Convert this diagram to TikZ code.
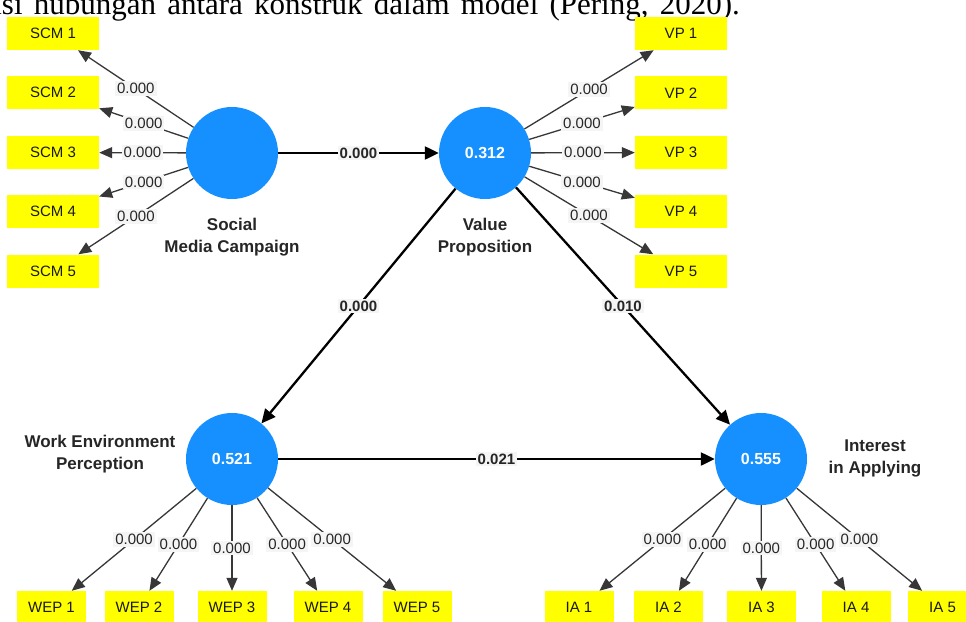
\documentclass[tikz,border=0pt]{standalone}
\usepackage{fontspec}
\setmainfont{Liberation Sans}
\newfontfamily\capfont{Liberation Serif}
\usetikzlibrary{arrows.meta}
\definecolor{lvblue}{RGB}{22,144,255}
\definecolor{indyel}{RGB}{255,255,0}
\definecolor{lblbg}{RGB}{245,245,245}
\definecolor{ldgray}{RGB}{55,55,55}
\newcommand{\capwords}{\spaceskip=11.2pt\relax isi hubungan antara konstruk dalam model (Pering, 2020).}
\begin{document}
\begin{tikzpicture}[x=1pt,y=-1pt,
  latent/.style={circle,fill=lvblue,minimum size=92pt,inner sep=0pt,text=white,font=\fontsize{16}{16}\selectfont\bfseries},
  indbig/.style={fill=indyel,minimum width=92pt,minimum height=33pt,inner sep=0pt,font=\fontsize{15}{15}\selectfont,text=black!90},
  indsmall/.style={indbig,minimum width=69pt},
  load/.style={draw=ldgray,line width=1.3pt,-{Triangle[length=13pt,width=11pt]}},
  pathc/.style={draw=black,line width=2.3pt,-{Triangle[length=14pt,width=13pt]}},
  lbl/.style={fill=lblbg,inner sep=2pt,font=\fontsize{15}{15}\selectfont,text=black!85},
  plbl/.style={fill=lblbg,inner sep=2pt,font=\fontsize{15}{15}\selectfont\bfseries,text=black!85},
  cname/.style={align=center,font=\fontsize{17}{22}\selectfont\bfseries,text=black!85},
  captxt/.style={anchor=base east,inner sep=0pt,font=\capfont\fontsize{31}{31}\selectfont}
]
\clip (0,0) rectangle (966,621);
\fill[white] (0,0) rectangle (966,621);

% caption fragment (cut off at the top edge, as in the reference)
\node[captxt] (cap) at (740,14) {\capwords};

% latent variables
\node[latent] (scm) at (232,153) {};
\node[latent] (vp) at (485,153) {0.312};
\node[latent] (wep) at (232,459) {0.521};
\node[latent] (ia) at (761,459) {0.555};

% construct names
\node[cname] (scmname) at (232,237) {Social\\Media Campaign};
\node[cname] (vpname) at (485,237) {Value\\Proposition};
\node[cname] (wepname) at (100,454) {Work Environment\\Perception};
\node[cname] (ianame) at (875,458) {Interest\\in Applying};

% indicators
\foreach \i/\y in {1/33.5,2/92.8,3/152.5,4/211.6,5/271}{
  \node[indbig] (scm\i) at (53,\y) {SCM \i};
  \node[indbig] (vp\i) at (681,\y) {VP \i};
}
\foreach \i/\x in {1/51.5,2/139,3/232,4/328,5/417}{
  \node[indsmall] (wep\i) at (\x,607.5) {WEP \i};
}
\foreach \i/\x in {1/579,2/668.5,3/761.5,4/856,5/942.5}{
  \node[indsmall] (ia\i) at (\x,607.5) {IA \i};
}

% outer loadings
\foreach \i in {1,...,5}{
  \draw[load] (scm) -- node[lbl]{0.000} (scm\i);
  \draw[load] (vp) -- node[lbl]{0.000} (vp\i);
  \draw[load] (wep) -- node[lbl]{0.000} (wep\i);
  \draw[load] (ia) -- node[lbl]{0.000} (ia\i);
}

% structural paths
\draw[pathc] (scm) -- node[plbl]{0.000} (vp);
\draw[pathc] (vp) -- node[plbl]{0.000} (wep);
\draw[pathc] (vp) -- node[plbl]{0.010} (ia);
\draw[pathc] (wep) -- node[plbl]{0.021} (ia);
\end{tikzpicture}
\end{document}
